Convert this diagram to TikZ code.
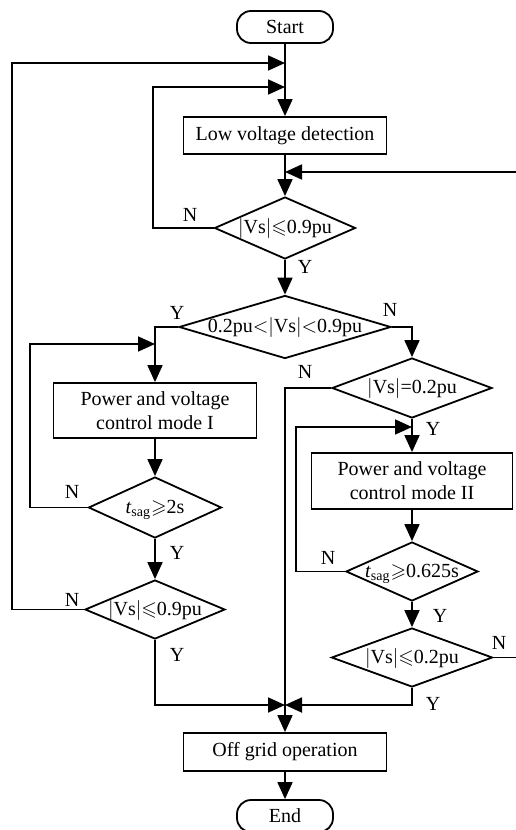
\documentclass[tikz,border=0pt]{standalone}
\usepackage{fontspec}
\setmainfont{Liberation Serif}
\usepackage{amssymb}
\usetikzlibrary{shapes.geometric,arrows.meta}

\begin{document}
\begin{tikzpicture}[x=0.5pt, y=-0.5pt, line width=0.9pt,
    font=\fontsize{10}{12}\selectfont,
    term/.style={draw, rectangle, rounded corners=7pt, minimum width=48pt, minimum height=16pt, inner sep=0pt},
    proc/.style={draw, rectangle, minimum width=101.5pt, align=center, inner sep=0pt},
    cond/.style={draw, diamond, inner sep=0pt, text height=1.5ex, text depth=0.3ex},
    arr/.style={-{Triangle[length=8.5pt,width=7.5pt]}},
    yn/.style={inner sep=0pt}]
    \useasboundingbox (0,0) rectangle (515,830);
    % Main column
    \node[term] (start) at (285,27) {Start};
    \node[proc, minimum height=18.5pt] (detect) at (285,135.5) {Low voltage detection};
    \node[cond, aspect=2.27, minimum width=70.5pt, minimum height=31pt] (vs09) at (285,228) {$|$Vs$|$\ensuremath{\leqslant}0.9pu};
    \node[cond, aspect=3.37, minimum width=106pt, minimum height=31.5pt] (band) at (285,327) {0.2pu$<$$|$Vs$|$$<$0.9pu};
    \node[proc, minimum height=19pt] (off) at (285,752) {Off grid operation};
    \node[term] (finish) at (285,816) {End};
    % Left column
    \node[proc, minimum height=27.5pt] (mode1) at (155,410.5) {Power and voltage\\control mode I};
    \node[cond, aspect=2.18, minimum width=66.5pt, minimum height=30.5pt] (tsag2) at (155,507.5) {\textit{t}\textsubscript{sag}\ensuremath{\geqslant}2s};
    \node[cond, aspect=2.37, minimum width=70pt, minimum height=29.5pt] (vs09b) at (155,609.5) {$|$Vs$|$\ensuremath{\leqslant}0.9pu};
    % Right column
    \node[cond, aspect=2.67, minimum width=80pt, minimum height=30pt] (vs02eq) at (412,388) {$|$Vs$|$=0.2pu};
    \node[proc, minimum width=100.5pt, minimum height=28pt] (mode2) at (412,481) {Power and voltage\\control mode II};
    \node[cond, aspect=2.24, minimum width=66pt, minimum height=29.5pt] (tsag625) at (412,571.5) {\textit{t}\textsubscript{sag}\ensuremath{\geqslant}0.625s};
    \node[cond, aspect=2.73, minimum width=80.5pt, minimum height=29.5pt] (vs02le) at (412,657.5) {$|$Vs$|$\ensuremath{\leqslant}0.2pu};
    % Junction points
    \coordinate (j1) at (285,63);
    \coordinate (j2) at (285,87);
    \coordinate (j3) at (285,172);
    \coordinate (j4) at (155,344);
    \coordinate (j5) at (285,705);
    \coordinate (j6) at (412,427);
    % Forward flow
    \draw[arr] (start) -- (detect);
    \draw[arr] (detect) -- (vs09);
    \draw[arr] (vs09) -- (band);
    \draw[arr] (band.west) -| (mode1);
    \draw[arr] (band.east) -| (vs02eq);
    \draw[arr] (mode1) -- (tsag2);
    \draw[arr] (tsag2) -- (vs09b);
    \draw[arr] (vs02eq) -- (mode2);
    \draw[arr] (mode2) -- (tsag625);
    \draw[arr] (tsag625) -- (vs02le);
    \draw[arr] (vs02eq.west) -| (off);
    \draw[arr] (vs09b.south) |- (j5);
    \draw[arr] (vs02le.south) |- (j5);
    \draw[arr] (off) -- (finish);
    % Feedback loops
    \draw[arr] (vs09.west) -- ++(-61,0) |- (j2);
    \draw[arr] (vs09b.west) -- ++(-72,0) |- (j1);
    \draw[arr] (tsag2.west) -- ++(-58,0) |- (j4);
    \draw[arr] (tsag625.west) -- ++(-49,0) |- (j6);
    \draw[arr] (vs02le.east) -- ++(27,0) |- (j3);
    % Branch labels
    \node[yn] (n1) at (190,215) {N};
    \node[yn] (y1) at (305,267) {Y};
    \node[yn] (y2) at (177,313) {Y};
    \node[yn] (n2) at (390,310) {N};
    \node[yn] (n3) at (305,372) {N};
    \node[yn] (y3) at (433,429) {Y};
    \node[yn] (n4) at (72,492) {N};
    \node[yn] (y4) at (177,553) {Y};
    \node[yn] (n5) at (72,600) {N};
    \node[yn] (y5) at (177,655) {Y};
    \node[yn] (n6) at (328,558) {N};
    \node[yn] (y6) at (440,616) {Y};
    \node[yn] (n7) at (499,643) {N};
    \node[yn] (y7) at (433,704) {Y};
\end{tikzpicture}
\end{document}
